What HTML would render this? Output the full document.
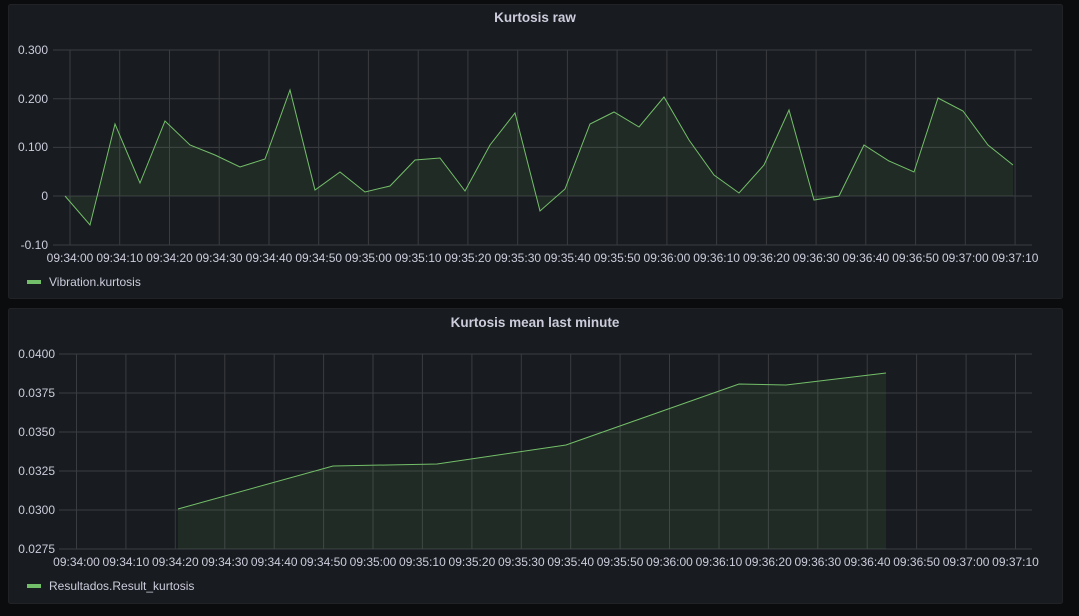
<!DOCTYPE html>
<html><head><meta charset="utf-8"><style>
html,body{margin:0;padding:0;background:#0b0c0e;width:1079px;height:616px;overflow:hidden}
svg{display:block;font-family:"Liberation Sans",sans-serif}
.t{fill:#ccccdc;font-size:12px}
.h{fill:#ccccdc;font-size:13.5px;font-weight:bold}
.g line{stroke:#3a3c40;stroke-width:1}
</style></head><body>
<svg width="1079" height="616" viewBox="0 0 1079 616">
<rect x="8.5" y="4.5" width="1054" height="294" rx="2" fill="#181b1f" stroke="#202226"/>
<rect x="8.5" y="308.5" width="1054" height="295" rx="2" fill="#181b1f" stroke="#202226"/>
<text class="h" x="535" y="22" text-anchor="middle">Kurtosis raw</text>
<text class="h" x="535" y="327" text-anchor="middle">Kurtosis mean last minute</text>
<g class="g">
<line x1="53" x2="1032" y1="50" y2="50"/><line x1="53" x2="1032" y1="98.7" y2="98.7"/><line x1="53" x2="1032" y1="147.4" y2="147.4"/><line x1="53" x2="1032" y1="196" y2="196"/><line x1="53" x2="1032" y1="245" y2="245"/>
<line x1="70" x2="70" y1="50" y2="245"/><line x1="119.7" x2="119.7" y1="50" y2="245"/><line x1="169.5" x2="169.5" y1="50" y2="245"/><line x1="219.2" x2="219.2" y1="50" y2="245"/><line x1="269" x2="269" y1="50" y2="245"/><line x1="318.7" x2="318.7" y1="50" y2="245"/><line x1="368.4" x2="368.4" y1="50" y2="245"/><line x1="418.2" x2="418.2" y1="50" y2="245"/><line x1="467.9" x2="467.9" y1="50" y2="245"/><line x1="517.7" x2="517.7" y1="50" y2="245"/><line x1="567.4" x2="567.4" y1="50" y2="245"/><line x1="617.1" x2="617.1" y1="50" y2="245"/><line x1="666.9" x2="666.9" y1="50" y2="245"/><line x1="716.6" x2="716.6" y1="50" y2="245"/><line x1="766.4" x2="766.4" y1="50" y2="245"/><line x1="816.1" x2="816.1" y1="50" y2="245"/><line x1="865.8" x2="865.8" y1="50" y2="245"/><line x1="915.6" x2="915.6" y1="50" y2="245"/><line x1="965.3" x2="965.3" y1="50" y2="245"/><line x1="1015.1" x2="1015.1" y1="50" y2="245"/>
<line x1="59" x2="1032" y1="354" y2="354"/><line x1="59" x2="1032" y1="393" y2="393"/><line x1="59" x2="1032" y1="432" y2="432"/><line x1="59" x2="1032" y1="471" y2="471"/><line x1="59" x2="1032" y1="510" y2="510"/><line x1="59" x2="1032" y1="549" y2="549"/>
<line x1="76.5" x2="76.5" y1="354" y2="549"/><line x1="125.9" x2="125.9" y1="354" y2="549"/><line x1="175.3" x2="175.3" y1="354" y2="549"/><line x1="224.8" x2="224.8" y1="354" y2="549"/><line x1="274.2" x2="274.2" y1="354" y2="549"/><line x1="323.6" x2="323.6" y1="354" y2="549"/><line x1="373" x2="373" y1="354" y2="549"/><line x1="422.4" x2="422.4" y1="354" y2="549"/><line x1="471.9" x2="471.9" y1="354" y2="549"/><line x1="521.3" x2="521.3" y1="354" y2="549"/><line x1="570.7" x2="570.7" y1="354" y2="549"/><line x1="620.1" x2="620.1" y1="354" y2="549"/><line x1="669.5" x2="669.5" y1="354" y2="549"/><line x1="719" x2="719" y1="354" y2="549"/><line x1="768.4" x2="768.4" y1="354" y2="549"/><line x1="817.8" x2="817.8" y1="354" y2="549"/><line x1="867.2" x2="867.2" y1="354" y2="549"/><line x1="916.6" x2="916.6" y1="354" y2="549"/><line x1="966.1" x2="966.1" y1="354" y2="549"/><line x1="1015.5" x2="1015.5" y1="354" y2="549"/>
</g>
<g class="t" text-anchor="end">
<text x="48" y="54">0.300</text><text x="48" y="103">0.200</text><text x="48" y="151">0.100</text><text x="48" y="200">0</text><text x="48" y="249">-0.10</text>
<text x="55" y="358">0.0400</text><text x="55" y="397">0.0375</text><text x="55" y="436">0.0350</text><text x="55" y="475">0.0325</text><text x="55" y="514">0.0300</text><text x="55" y="553">0.0275</text>
</g>
<g class="t" text-anchor="middle">
<text x="70" y="262">09:34:00</text><text x="119.7" y="262">09:34:10</text><text x="169.5" y="262">09:34:20</text><text x="219.2" y="262">09:34:30</text><text x="269" y="262">09:34:40</text><text x="318.7" y="262">09:34:50</text><text x="368.4" y="262">09:35:00</text><text x="418.2" y="262">09:35:10</text><text x="467.9" y="262">09:35:20</text><text x="517.7" y="262">09:35:30</text><text x="567.4" y="262">09:35:40</text><text x="617.1" y="262">09:35:50</text><text x="666.9" y="262">09:36:00</text><text x="716.6" y="262">09:36:10</text><text x="766.4" y="262">09:36:20</text><text x="816.1" y="262">09:36:30</text><text x="865.8" y="262">09:36:40</text><text x="915.6" y="262">09:36:50</text><text x="965.3" y="262">09:37:00</text><text x="1015.1" y="262">09:37:10</text>
<text x="76.5" y="566">09:34:00</text><text x="125.9" y="566">09:34:10</text><text x="175.3" y="566">09:34:20</text><text x="224.8" y="566">09:34:30</text><text x="274.2" y="566">09:34:40</text><text x="323.6" y="566">09:34:50</text><text x="373" y="566">09:35:00</text><text x="422.4" y="566">09:35:10</text><text x="471.9" y="566">09:35:20</text><text x="521.3" y="566">09:35:30</text><text x="570.7" y="566">09:35:40</text><text x="620.1" y="566">09:35:50</text><text x="669.5" y="566">09:36:00</text><text x="719" y="566">09:36:10</text><text x="768.4" y="566">09:36:20</text><text x="817.8" y="566">09:36:30</text><text x="867.2" y="566">09:36:40</text><text x="916.6" y="566">09:36:50</text><text x="966.1" y="566">09:37:00</text><text x="1015.5" y="566">09:37:10</text>
</g>
<polygon fill="rgba(115,191,105,0.1)" points="65,196 65,196 90,225 115,124 140,183 165,121 190,145 215,155 240,167 265,159 290,90 315,190 340,172 365,192 390,186 415,160 440,158 465,191 490,145 515,113 540,211 565,189 590,124 614,112 639,127 664,97 689,140 714,175 739,193 764,165 789,110 814,200 839,196 864,145 889,161 914,172 938,98 963,111 988,145 1013,165 1013,196"/>
<polyline fill="none" stroke="#73bf69" stroke-width="1" points="65,196 90,225 115,124 140,183 165,121 190,145 215,155 240,167 265,159 290,90 315,190 340,172 365,192 390,186 415,160 440,158 465,191 490,145 515,113 540,211 565,189 590,124 614,112 639,127 664,97 689,140 714,175 739,193 764,165 789,110 814,200 839,196 864,145 889,161 914,172 938,98 963,111 988,145 1013,165"/>
<polygon fill="rgba(115,191,105,0.1)" points="178,549 178,509 333,466 437,464 566,445 739,384 786,385 886,373 886,549"/>
<polyline fill="none" stroke="#73bf69" stroke-width="1" points="178,509 333,466 437,464 566,445 739,384 786,385 886,373"/>
<rect x="27" y="280" width="14" height="4" fill="#73bf69"/>
<text class="t" x="49" y="286">Vibration.kurtosis</text>
<rect x="27" y="584" width="14" height="4" fill="#73bf69"/>
<text class="t" x="49" y="590">Resultados.Result_kurtosis</text>
</svg>
</body></html>
